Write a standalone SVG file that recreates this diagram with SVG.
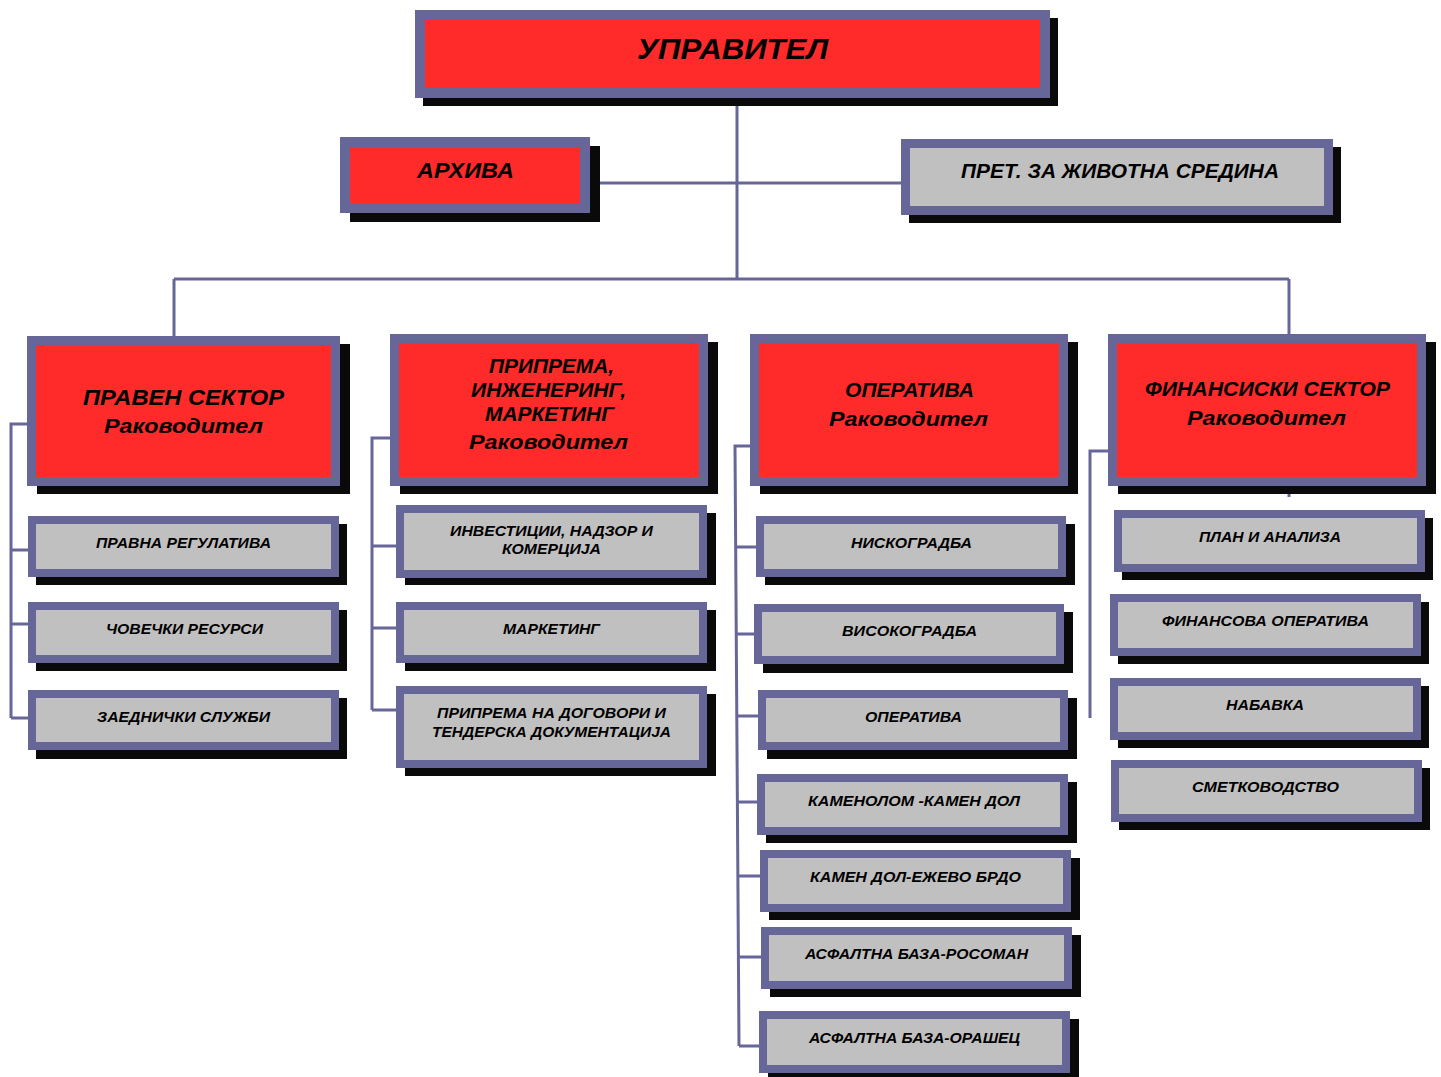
<svg xmlns="http://www.w3.org/2000/svg" width="1441" height="1077" viewBox="0 0 1441 1077">
<style>
.sh{fill:#0a0a0a}
.fr{fill:#666699}
.red{fill:#ff2a2a}
.gr{fill:#c0c0c0}
.ln{stroke:#666699;stroke-width:3;fill:none}
text{font-family:"Liberation Sans",Arial,sans-serif;font-weight:bold;font-style:italic;fill:#000;text-anchor:middle}
.t1{font-size:30px}
.t2{font-size:22px}
.t3{font-size:20px}
.t5{font-size:21px}
.t4{font-size:14.5px}
</style>
<rect width="1441" height="1077" fill="#fff"/>
<g id="connectors">
<path class="ln" d="M737,98 V279 M590,183 H901 M174,279 H1289 M174,279 V336 M1289,279 V334 M1289,486 V497"/>
<path class="ln" d="M27,424 H11 V718 M11,550 H28 M11,624 H28 M11,718 H28"/>
<path class="ln" d="M390,438 H372 V710 M372,546 H396 M372,628 H396 M372,710 H396"/>
<path class="ln" d="M750,446 H735 L739,1046 M735,547 H756 M736,634 H754 M736,716 H758 M737,802 H757 M737,876 H760 M738,957 H761 M739,1046 H759"/>
<path class="ln" d="M1108,451 H1090 V718"/>
</g>
<g id="n-upravitel"><rect class="sh" x="423" y="18" width="635" height="88"/><rect class="fr" x="415" y="10" width="635" height="88"/><rect class="red" x="425" y="20" width="615" height="68"/><text class="t1" x="732.5" y="59" textLength="191" lengthAdjust="spacingAndGlyphs">УПРАВИТЕЛ</text></g>
<g id="n-arhiva"><rect class="sh" x="350" y="146" width="250" height="76"/><rect class="fr" x="340" y="137" width="250" height="76"/><rect class="red" x="350" y="147" width="230" height="56"/><text class="t2" x="465.5" y="178" textLength="97" lengthAdjust="spacingAndGlyphs">АРХИВА</text></g>
<g id="n-pret"><rect class="sh" x="909" y="147" width="432" height="76"/><rect class="fr" x="901" y="139" width="432" height="76"/><rect class="gr" x="910" y="148" width="414" height="58"/><text class="t3" x="1120" y="178" textLength="318" lengthAdjust="spacingAndGlyphs">ПРЕТ. ЗА ЖИВОТНА СРЕДИНА</text></g>
<g id="n-praven"><rect class="sh" x="37" y="344" width="313" height="150"/><rect class="fr" x="27" y="336" width="313" height="150"/><rect class="red" x="36" y="345" width="295" height="132"/><text class="t2" x="183.5" y="405" textLength="201" lengthAdjust="spacingAndGlyphs">ПРАВЕН СЕКТОР</text><text class="t5" x="183.5" y="433" textLength="159" lengthAdjust="spacingAndGlyphs">Раководител</text></g>
<g id="n-priprema"><rect class="sh" x="400" y="342" width="318" height="152"/><rect class="fr" x="390" y="334" width="318" height="152"/><rect class="red" x="399" y="343" width="300" height="134"/><text class="t3" x="551.5" y="373" textLength="125" lengthAdjust="spacingAndGlyphs">ПРИПРЕМА,</text><text class="t3" x="548.5" y="397" textLength="155" lengthAdjust="spacingAndGlyphs">ИНЖЕНЕРИНГ,</text><text class="t3" x="549.5" y="421" textLength="129" lengthAdjust="spacingAndGlyphs">МАРКЕТИНГ</text><text class="t5" x="548.5" y="449" textLength="159" lengthAdjust="spacingAndGlyphs">Раководител</text></g>
<g id="n-operativa"><rect class="sh" x="760" y="342" width="318" height="152"/><rect class="fr" x="750" y="334" width="318" height="152"/><rect class="red" x="759" y="343" width="300" height="134"/><text class="t3" x="909.5" y="397" textLength="129" lengthAdjust="spacingAndGlyphs">ОПЕРАТИВА</text><text class="t5" x="908.5" y="426" textLength="159" lengthAdjust="spacingAndGlyphs">Раководител</text></g>
<g id="n-finansiski"><rect class="sh" x="1118" y="342" width="318" height="152"/><rect class="fr" x="1108" y="334" width="318" height="152"/><rect class="red" x="1117" y="343" width="300" height="134"/><text class="t3" x="1267.5" y="396" textLength="245" lengthAdjust="spacingAndGlyphs">ФИНАНСИСКИ СЕКТОР</text><text class="t5" x="1266.5" y="425" textLength="159" lengthAdjust="spacingAndGlyphs">Раководител</text></g>
<g id="n-pravna"><rect class="sh" x="36" y="524" width="311" height="61"/><rect class="fr" x="28" y="516" width="311" height="61"/><rect class="gr" x="36" y="524" width="295" height="45"/><text class="t4" x="183.5" y="548" textLength="175" lengthAdjust="spacingAndGlyphs">ПРАВНА РЕГУЛАТИВА</text></g>
<g id="n-covecki"><rect class="sh" x="36" y="610" width="311" height="61"/><rect class="fr" x="28" y="602" width="311" height="61"/><rect class="gr" x="36" y="610" width="295" height="45"/><text class="t4" x="184.5" y="634" textLength="157" lengthAdjust="spacingAndGlyphs">ЧОВЕЧКИ РЕСУРСИ</text></g>
<g id="n-zaednicki"><rect class="sh" x="36" y="698" width="311" height="61"/><rect class="fr" x="28" y="690" width="311" height="60"/><rect class="gr" x="36" y="698" width="295" height="44"/><text class="t4" x="183.5" y="722" textLength="173" lengthAdjust="spacingAndGlyphs">ЗАЕДНИЧКИ СЛУЖБИ</text></g>
<g id="n-investicii"><rect class="sh" x="405" y="513" width="311" height="72"/><rect class="fr" x="396" y="505" width="311" height="73"/><rect class="gr" x="404" y="513" width="295" height="57"/><text class="t4" x="551.5" y="536" textLength="203" lengthAdjust="spacingAndGlyphs">ИНВЕСТИЦИИ, НАДЗОР И</text><text class="t4" x="551.5" y="554" textLength="99" lengthAdjust="spacingAndGlyphs">КОМЕРЦИЈА</text></g>
<g id="n-marketing"><rect class="sh" x="405" y="610" width="311" height="61"/><rect class="fr" x="396" y="602" width="311" height="61"/><rect class="gr" x="404" y="610" width="295" height="45"/><text class="t4" x="551.5" y="634" textLength="97" lengthAdjust="spacingAndGlyphs">МАРКЕТИНГ</text></g>
<g id="n-dogovori"><rect class="sh" x="405" y="694" width="311" height="82"/><rect class="fr" x="396" y="686" width="311" height="82"/><rect class="gr" x="404" y="694" width="295" height="66"/><text class="t4" x="551.5" y="718" textLength="229" lengthAdjust="spacingAndGlyphs">ПРИПРЕМА НА ДОГОВОРИ И</text><text class="t4" x="551.5" y="737" textLength="239" lengthAdjust="spacingAndGlyphs">ТЕНДЕРСКА ДОКУМЕНТАЦИЈА</text></g>
<g id="n-niskogradba"><rect class="sh" x="765" y="524" width="310" height="61"/><rect class="fr" x="756" y="516" width="310" height="61"/><rect class="gr" x="764" y="524" width="294" height="45"/><text class="t4" x="911.5" y="548" textLength="121" lengthAdjust="spacingAndGlyphs">НИСКОГРАДБА</text></g>
<g id="n-visokogradba"><rect class="sh" x="763" y="612" width="310" height="61"/><rect class="fr" x="754" y="604" width="310" height="60"/><rect class="gr" x="762" y="612" width="294" height="44"/><text class="t4" x="909.5" y="636" textLength="135" lengthAdjust="spacingAndGlyphs">ВИСОКОГРАДБА</text></g>
<g id="n-operativa2"><rect class="sh" x="767" y="698" width="310" height="61"/><rect class="fr" x="758" y="690" width="310" height="60"/><rect class="gr" x="766" y="698" width="294" height="44"/><text class="t4" x="913.5" y="722" textLength="97" lengthAdjust="spacingAndGlyphs">ОПЕРАТИВА</text></g>
<g id="n-kamenolom"><rect class="sh" x="766" y="782" width="311" height="61"/><rect class="fr" x="757" y="774" width="311" height="61"/><rect class="gr" x="765" y="782" width="295" height="45"/><text class="t4" x="914" y="806" textLength="212" lengthAdjust="spacingAndGlyphs">КАМЕНОЛОМ -КАМЕН ДОЛ</text></g>
<g id="n-kamendol"><rect class="sh" x="769" y="858" width="311" height="62"/><rect class="fr" x="760" y="850" width="311" height="62"/><rect class="gr" x="768" y="858" width="295" height="46"/><text class="t4" x="915.5" y="882" textLength="211" lengthAdjust="spacingAndGlyphs">КАМЕН ДОЛ-ЕЖЕВО БРДО</text></g>
<g id="n-rosoman"><rect class="sh" x="770" y="935" width="311" height="62"/><rect class="fr" x="761" y="927" width="311" height="62"/><rect class="gr" x="769" y="935" width="295" height="46"/><text class="t4" x="916.5" y="959" textLength="223" lengthAdjust="spacingAndGlyphs">АСФАЛТНА БАЗА-РОСОМАН</text></g>
<g id="n-orasec"><rect class="sh" x="768" y="1019" width="311" height="62"/><rect class="fr" x="759" y="1011" width="311" height="62"/><rect class="gr" x="767" y="1019" width="295" height="46"/><text class="t4" x="914.5" y="1043" textLength="211" lengthAdjust="spacingAndGlyphs">АСФАЛТНА БАЗА-ОРАШЕЦ</text></g>
<g id="n-plan"><rect class="sh" x="1122" y="518" width="311" height="62"/><rect class="fr" x="1114" y="510" width="311" height="62"/><rect class="gr" x="1122" y="518" width="295" height="46"/><text class="t4" x="1270" y="542" textLength="142" lengthAdjust="spacingAndGlyphs">ПЛАН И АНАЛИЗА</text></g>
<g id="n-finoperativa"><rect class="sh" x="1118" y="602" width="311" height="62"/><rect class="fr" x="1110" y="594" width="311" height="62"/><rect class="gr" x="1118" y="602" width="295" height="46"/><text class="t4" x="1265.5" y="626" textLength="207" lengthAdjust="spacingAndGlyphs">ФИНАНСОВА ОПЕРАТИВА</text></g>
<g id="n-nabavka"><rect class="sh" x="1118" y="686" width="311" height="62"/><rect class="fr" x="1110" y="678" width="311" height="62"/><rect class="gr" x="1118" y="686" width="295" height="46"/><text class="t4" x="1265" y="710" textLength="78" lengthAdjust="spacingAndGlyphs">НАБАВКА</text></g>
<g id="n-smetkovodstvo"><rect class="sh" x="1119" y="768" width="311" height="62"/><rect class="fr" x="1111" y="760" width="311" height="62"/><rect class="gr" x="1119" y="768" width="295" height="46"/><text class="t4" x="1265.5" y="792" textLength="147" lengthAdjust="spacingAndGlyphs">СМЕТКОВОДСТВО</text></g>
</svg>
